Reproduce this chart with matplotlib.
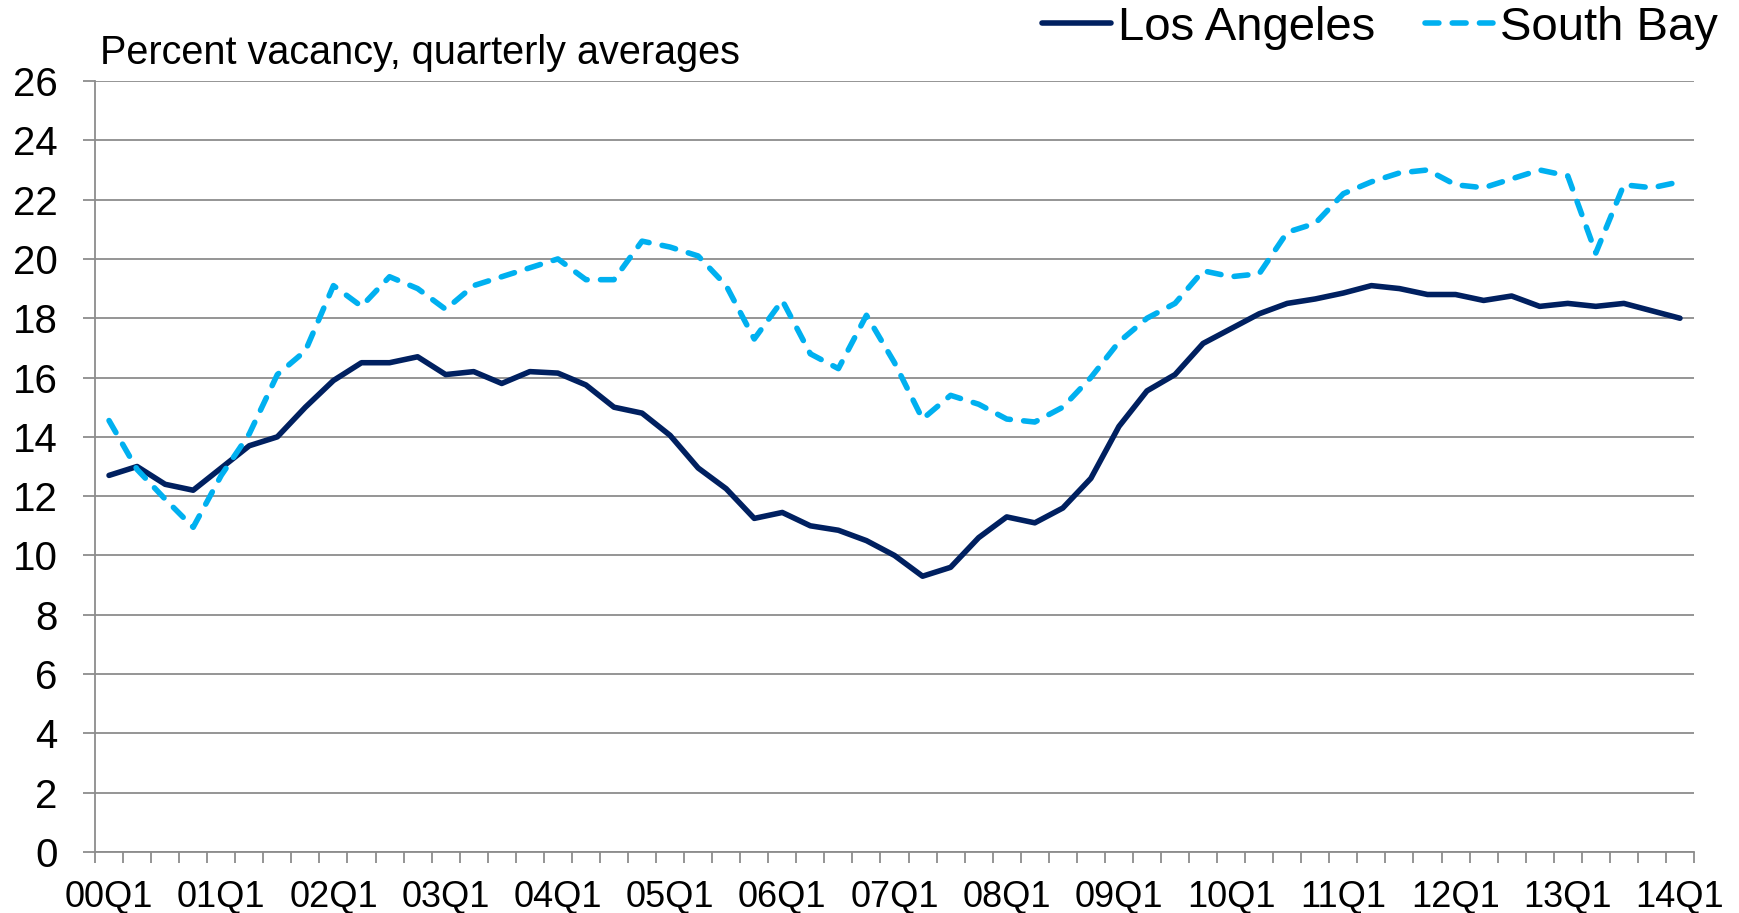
import matplotlib
matplotlib.use("Agg")
import matplotlib.pyplot as plt
import numpy as np

plt.rcParams['font.family'] = ['Liberation Sans', 'DejaVu Sans']

# quarters 00Q1 .. 14Q1
years = list(range(0, 15))
quarters = ["%02dQ%d" % (y, q) for y in years for q in range(1, 5)][:57]

los_angeles = [12.7, 13.0, 12.4, 12.2, 12.95, 13.7, 14.0, 15.0, 15.9, 16.5,
               16.5, 16.7, 16.1, 16.2, 15.8, 16.2, 16.15, 15.75, 15.0, 14.8,
               14.05, 12.95, 12.25, 11.25, 11.45, 11.0, 10.85, 10.5, 10.0, 9.3,
               9.6, 10.6, 11.3, 11.1, 11.6, 12.6, 14.35, 15.55, 16.1, 17.15,
               17.65, 18.15, 18.5, 18.65, 18.85, 19.1, 19.0, 18.8, 18.8, 18.6,
               18.75, 18.4, 18.5, 18.4, 18.5, 18.25, 18.0]

south_bay = [14.55, 12.9, 11.9, 10.95, 12.7, 14.1, 16.1, 16.9, 19.1, 18.4,
             19.4, 19.0, 18.3, 19.1, 19.4, 19.7, 20.0, 19.3, 19.3, 20.6,
             20.4, 20.1, 19.1, 17.3, 18.6, 16.8, 16.3, 18.1, 16.5, 14.6,
             15.4, 15.1, 14.6, 14.5, 15.0, 16.0, 17.2, 18.0, 18.5, 19.6,
             19.4, 19.5, 20.9, 21.2, 22.2, 22.6, 22.9, 23.0, 22.5, 22.4,
             22.7, 23.0, 22.8, 20.2, 22.5, 22.4, 22.6]

navy = '#002060'
sky = '#00B0F0'
grey = '#8C8C8C'

fig = plt.figure(figsize=(17.4, 9.13), dpi=100)
ax = fig.add_axes([95/1740, 1 - 852/913, (1694 - 95)/1740, (852 - 81)/913])

x = np.arange(len(quarters))
l1, = ax.plot(x, los_angeles, color=navy, lw=4.0, solid_joinstyle='round',
              solid_capstyle='round', label='Los Angeles', zorder=3)
l2, = ax.plot(x, south_bay, color=sky, lw=4.0, linestyle=(0, (2.5, 2.4)),
              dash_capstyle='round', dash_joinstyle='round', label='South Bay', zorder=3)

ax.set_xlim(-0.5, len(quarters) - 0.5)
ax.set_ylim(0, 26)
ax.set_yticks(range(0, 27, 2))
ax.set_xticks(x[::4])
ax.set_xticklabels(quarters[::4])
ax.set_xticks(np.arange(-0.5, len(quarters), 1), minor=True)

ax.grid(axis='y', color=grey, lw=1.3, zorder=0)
ax.set_axisbelow(True)
for s in ['top', 'right']:
    ax.spines[s].set_visible(False)
for s in ['left', 'bottom']:
    ax.spines[s].set_color(grey)
    ax.spines[s].set_linewidth(1.3)

ax.tick_params(axis='y', direction='out', length=9, width=1.3, color=grey,
               labelsize=29, pad=18)
ax.tick_params(axis='x', which='major', length=0, labelsize=26, pad=20)
ax.tick_params(axis='x', which='minor', direction='out', length=8, width=1.3, color=grey)

fig.text(100/1740, 1 - 64/913, 'Percent vacancy, quarterly averages',
         fontsize=28.5, va='baseline', ha='left')

fig.legend(handles=[l1, l2], loc='center right', bbox_to_anchor=(1718/1740, 1 - 28/913),
           ncol=2, frameon=False, fontsize=34, handlelength=1.45, handletextpad=0.15,
           columnspacing=1.05, borderpad=0, borderaxespad=0)

fig.savefig('out.png', dpi=100)
